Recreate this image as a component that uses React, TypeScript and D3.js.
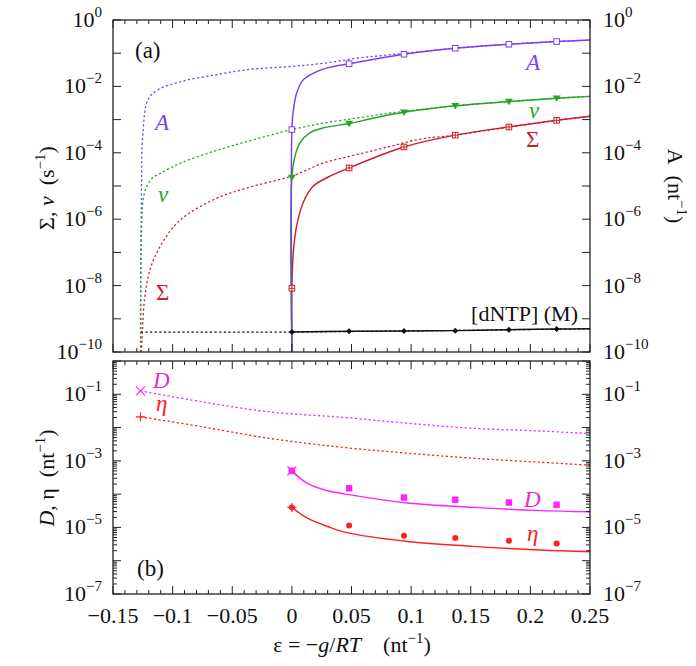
import React from 'react';
import * as d3 from 'd3';

type Pt = [number, number];

// ---- data (eps in nt^-1) ----
const EPS_MARK = [0, 0.048, 0.094, 0.137, 0.182, 0.222];
const EPS_MARK_B = [0.048, 0.094, 0.137, 0.182, 0.222];
const EPS_START = -0.127;

const A_MARK = [5.0e-4, 4.8e-2, 9.3e-2, 0.141, 0.186, 0.224];
const V_MARK = [1.8e-5, 7.6e-4, 1.66e-3, 2.6e-3, 3.5e-3, 4.4e-3];
const S_MARK = [8.3e-9, 3.5e-5, 1.5e-4, 3.4e-4, 6.0e-4, 9.5e-4];
const DNTP_MARK = [4.0e-10, 4.2e-10, 4.3e-10, 4.4e-10, 4.7e-10, 4.9e-10];

const A_SOLID: Pt[] = [
  [0, 1e-10], [0, 5.0e-4], [0.001, 1.6e-3], [0.004, 6.3e-3], [0.0097, 1.6e-2],
  [0.021, 2.8e-2], [0.032, 3.8e-2], [0.048, 4.8e-2], [0.069, 6.6e-2], [0.094, 9.3e-2],
  [0.137, 0.141], [0.182, 0.186], [0.222, 0.224], [0.25, 0.25],
];
const V_SOLID: Pt[] = [
  [0, 1e-10], [0, 1.8e-5], [0.0026, 7.9e-5], [0.0067, 2.0e-4], [0.015, 4.0e-4],
  [0.026, 5.6e-4], [0.048, 7.6e-4], [0.069, 1.12e-3], [0.094, 1.66e-3], [0.137, 2.6e-3],
  [0.182, 3.5e-3], [0.222, 4.4e-3], [0.25, 5.0e-3],
];
const S_SOLID: Pt[] = [
  [0, 1e-10], [0, 8.3e-9], [0.0012, 1.0e-7], [0.004, 6.3e-7], [0.0095, 3.2e-6],
  [0.018, 1.0e-5], [0.031, 1.9e-5], [0.048, 3.5e-5], [0.069, 7.1e-5], [0.094, 1.5e-4],
  [0.137, 3.4e-4], [0.182, 6.0e-4], [0.222, 9.5e-4], [0.25, 1.26e-3],
];
const DNTP_SOLID: Pt[] = [
  [0, 4.0e-10], [0.048, 4.2e-10], [0.094, 4.3e-10], [0.137, 4.4e-10],
  [0.182, 4.7e-10], [0.222, 4.9e-10], [0.25, 5.0e-10],
];

const A_DOT: Pt[] = [
  [-0.1268, 1e-10], [-0.1262, 4e-6], [-0.1249, 4e-4], [-0.1207, 4e-3], [-0.1123, 7.9e-3],
  [-0.0928, 1.4e-2], [-0.0649, 2.2e-2], [-0.037, 3.2e-2], [0, 4.0e-2], [0.027, 5.0e-2],
  [0.055, 7.1e-2], [0.083, 9.0e-2], [0.137, 0.141], [0.182, 0.186], [0.222, 0.224], [0.25, 0.25],
];
const V_DOT: Pt[] = [
  [-0.1268, 1e-10], [-0.1262, 4e-7], [-0.1235, 6.3e-6], [-0.1179, 1.6e-5], [-0.1095, 2.5e-5],
  [-0.0928, 5.0e-5], [-0.0649, 1.12e-4], [-0.037, 2.2e-4], [0, 5.0e-4], [0.027, 7.9e-4],
  [0.055, 1.12e-3], [0.083, 1.58e-3], [0.137, 2.6e-3], [0.182, 3.5e-3], [0.222, 4.4e-3], [0.25, 5.0e-3],
];
const S_DOT: Pt[] = [
  [-0.1268, 1e-10], [-0.1262, 1.26e-10], [-0.1235, 4.0e-9], [-0.1179, 4.0e-8], [-0.1068, 2.5e-7],
  [-0.0928, 1.0e-6], [-0.0649, 4.0e-6], [-0.037, 8.9e-6], [0, 2.0e-5], [0.027, 5.0e-5],
  [0.055, 8.9e-5], [0.083, 1.58e-4], [0.108, 2.6e-4], [0.137, 3.4e-4], [0.182, 6.0e-4],
  [0.222, 9.5e-4], [0.25, 1.26e-3],
];
const DNTP_DOT: Pt[] = [[-0.1265, 4.0e-10], [0, 4.0e-10], [0.25, 5.0e-10]];

const D_DOT: Pt[] = [
  [-0.127, 0.126], [-0.076, 6.0e-2], [-0.02, 3.0e-2], [0.045, 2.0e-2],
  [0.097, 1.35e-2], [0.152, 9.5e-3], [0.208, 7.9e-3], [0.25, 6.6e-3],
];
const ETA_DOT: Pt[] = [
  [-0.127, 2.1e-2], [-0.076, 1.07e-2], [-0.02, 4.8e-3], [0.045, 2.5e-3],
  [0.097, 1.7e-3], [0.152, 1.2e-3], [0.208, 9.1e-4], [0.25, 7.4e-4],
];
const D_SOLID: Pt[] = [
  [0, 5.0e-4], [0.013, 2.1e-4], [0.03, 1.26e-4], [0.045, 1.0e-4], [0.097, 5.4e-5],
  [0.152, 4.0e-5], [0.208, 3.2e-5], [0.25, 2.95e-5],
];
const ETA_SOLID: Pt[] = [
  [0, 4.0e-5], [0.013, 1.9e-5], [0.03, 1.07e-5], [0.045, 7.1e-6], [0.097, 3.8e-6],
  [0.152, 2.7e-6], [0.208, 2.1e-6], [0.25, 1.86e-6],
];
const D_MARK = [1.5e-4, 7.9e-5, 6.8e-5, 5.6e-5, 4.8e-5];
const ETA_MARK = [1.15e-5, 5.6e-6, 4.8e-6, 4.0e-6, 3.3e-6];
const D_START = 0.126;
const ETA_START = 2.1e-2;
const D_ZERO = 5.0e-4;
const ETA_ZERO = 4.0e-5;

const X_LABELS = ['\u22120.15', '\u22120.1', '\u22120.05', '0', '0.05', '0.1', '0.15', '0.2', '0.25'];
const X_LABEL_VALUES = [-0.15, -0.1, -0.05, 0, 0.05, 0.1, 0.15, 0.2, 0.25];
const TOP_EXP = [0, -2, -4, -6, -8, -10];
const BOT_EXP = [-1, -3, -5, -7];

// ---- colours ----
const C_A = '#7b3ff2';
const C_V = '#22a722';
const C_S = '#cc1f2e';
const C_D = '#ff22ff';
const C_DTXT = '#dd33cc';
const C_ETA = '#ff2020';
const FONT = '"Liberation Serif", "Times New Roman", serif';

const LEFT = 113, RIGHT = 590;
const x = d3.scaleLinear().domain([-0.15, 0.25]).range([LEFT, RIGHT]);
const yTop = d3.scaleLog().domain([1e-10, 1]).range([352, 20]);
const yBot = d3.scaleLog().domain([1e-7, 1]).range([594, 361]);

const mkLine = (y: d3.ScaleLogarithmic<number, number>) =>
  d3.line<Pt>().x(d => x(d[0])).y(d => y(d[1])).curve(d3.curveCatmullRom.alpha(0.5));

const lineTop = mkLine(yTop);
const lineBot = mkLine(yBot);

const DOT = '2.2,2.4';
const SOLID_W = 1.45;

const Pow: React.FC<{ px: number; py: number; exp: number; anchor: 'start' | 'end' }> = ({ px, py, exp, anchor }) => (
  <text x={px} y={py + 7} textAnchor={anchor} fontSize={22} fontFamily={FONT} fill="#111">
    10<tspan dy={-10} fontSize={15}>{exp < 0 ? '\u2212' + Math.abs(exp) : exp}</tspan>
  </text>
);

function Frame({ y, top, bottom, showX }: { y: d3.ScaleLogarithmic<number, number>; top: number; bottom: number; showX: boolean }) {
  const yt = y.ticks();
  const xt = d3.range(-15, 26).map(i => i / 100);
  return (
    <g>
      {yt.map((t, i) => {
        const major = Math.abs(Math.log10(t) - Math.round(Math.log10(t))) < 1e-6;
        const L = major ? 8 : 4;
        const py = y(t);
        return (
          <g key={'y' + i} stroke="#222" strokeWidth={1}>
            <line x1={LEFT} x2={LEFT + L} y1={py} y2={py} />
            <line x1={RIGHT} x2={RIGHT - L} y1={py} y2={py} />
          </g>
        );
      })}
      {xt.map((t, i) => {
        const major = Math.round(t * 100) % 5 === 0;
        const L = major ? 8 : 4;
        const px = x(t);
        return (
          <g key={'x' + i} stroke="#222" strokeWidth={1}>
            <line x1={px} x2={px} y1={bottom} y2={bottom - L} />
            <line x1={px} x2={px} y1={top} y2={top + L} />
          </g>
        );
      })}
      <rect x={LEFT} y={top} width={RIGHT - LEFT} height={bottom - top} fill="none" stroke="#222" strokeWidth={1.3} />
      {showX && X_LABEL_VALUES.map((v, i) => (
        <text key={'xl' + i} x={x(v)} y={bottom + 29} textAnchor="middle" fontSize={22} fontFamily={FONT} fill="#111">
          {X_LABELS[i]}
        </text>
      ))}
    </g>
  );
}

function OpenSquare({ cx, cy, color, plus }: { cx: number; cy: number; color: string; plus?: boolean }) {
  const s = 2.8;
  return (
    <g stroke={color} strokeWidth={1} fill="#fff">
      <rect x={cx - s} y={cy - s} width={2 * s} height={2 * s} />
      {plus && <path d={`M${cx - s},${cy}H${cx + s}M${cx},${cy - s}V${cy + s}`} fill="none" />}
    </g>
  );
}

function TriDown({ cx, cy, color }: { cx: number; cy: number; color: string }) {
  const s = 4;
  return <path d={`M${cx - s},${cy - s * 0.7}L${cx + s},${cy - s * 0.7}L${cx},${cy + s * 0.9}Z`} fill={color} />;
}

function Diamond({ cx, cy }: { cx: number; cy: number }) {
  const s = 3;
  return <path d={`M${cx},${cy - s}L${cx + s},${cy}L${cx},${cy + s}L${cx - s},${cy}Z`} fill="#111" />;
}

function Cross({ cx, cy, color, rot }: { cx: number; cy: number; color: string; rot?: boolean }) {
  const s = 4.5;
  const d = rot
    ? `M${cx - s},${cy - s}L${cx + s},${cy + s}M${cx - s},${cy + s}L${cx + s},${cy - s}`
    : `M${cx - s},${cy}H${cx + s}M${cx},${cy - s}V${cy + s}`;
  return <path d={d} stroke={color} strokeWidth={1.1} fill="none" />;
}

const it = { fontStyle: 'italic' as const };

export default function App() {
  return (
    <svg width={696} height={666} viewBox="0 0 696 666" style={{ position: 'absolute', left: 0, top: 0, background: '#fff' }}>
      <defs>
        <clipPath id="clipTop"><rect x={LEFT} y={20} width={RIGHT - LEFT} height={332} /></clipPath>
        <clipPath id="clipBot"><rect x={LEFT} y={361} width={RIGHT - LEFT} height={233} /></clipPath>
      </defs>
      <rect x={0} y={0} width={696} height={666} fill="#fff" />

      {/* ---- panel (a) ---- */}
      <g clipPath="url(#clipTop)" fill="none">
        <path d={lineTop(A_DOT) ?? ''} stroke={C_A} strokeWidth={1.3} strokeDasharray={DOT} />
        <path d={lineTop(V_DOT) ?? ''} stroke={C_V} strokeWidth={1.3} strokeDasharray={DOT} />
        <path d={lineTop(S_DOT) ?? ''} stroke={C_S} strokeWidth={1.3} strokeDasharray={DOT} />
        <path d={lineTop(DNTP_DOT) ?? ''} stroke="#111" strokeWidth={1.2} strokeDasharray={DOT} />
        <path d={lineTop(S_SOLID) ?? ''} stroke={C_S} strokeWidth={SOLID_W} />
        <path d={lineTop(V_SOLID) ?? ''} stroke={C_V} strokeWidth={SOLID_W} />
        <path d={lineTop(A_SOLID) ?? ''} stroke={C_A} strokeWidth={SOLID_W} />
        <path d={lineTop(DNTP_SOLID) ?? ''} stroke="#111" strokeWidth={SOLID_W} />
      </g>
      {EPS_MARK.map((e, i) => (
        <g key={'mt' + i}>
          <OpenSquare cx={x(e)} cy={yTop(A_MARK[i])} color={C_A} />
          <TriDown cx={x(e)} cy={yTop(V_MARK[i])} color={C_V} />
          <OpenSquare cx={x(e)} cy={yTop(S_MARK[i])} color={C_S} plus />
          <Diamond cx={x(e)} cy={yTop(DNTP_MARK[i])} />
        </g>
      ))}
      <Frame y={yTop} top={20} bottom={352} showX={false} />
      {TOP_EXP.map(e => (
        <g key={'te' + e}>
          <Pow px={102} py={yTop(10 ** e)} exp={e} anchor="end" />
          <Pow px={603} py={yTop(10 ** e)} exp={e} anchor="start" />
        </g>
      ))}

      <g fontFamily={FONT} fontSize={23}>
        <text x={135} y={58} fill="#111">(a)</text>
        <text x={155} y={130} fill={C_A} style={it}>A</text>
        <text x={158} y={202} fill={C_V} style={it}>ν</text>
        <text x={156} y={300} fill={C_S}>Σ</text>
        <text x={526} y={70} fill={C_A} style={it}>A</text>
        <text x={529} y={118} fill={C_V} style={it}>ν</text>
        <text x={526} y={147} fill={C_S}>Σ</text>
        <text x={578} y={321} fill="#111" textAnchor="end" fontSize={22}>[dNTP]  (M)</text>
      </g>

      {/* ---- panel (b) ---- */}
      <g clipPath="url(#clipBot)" fill="none">
        <path d={lineBot(D_DOT) ?? ''} stroke={C_D} strokeWidth={1.3} strokeDasharray={DOT} />
        <path d={lineBot(ETA_DOT) ?? ''} stroke={C_ETA} strokeWidth={1.3} strokeDasharray={DOT} />
        <path d={lineBot(D_SOLID) ?? ''} stroke={C_D} strokeWidth={SOLID_W} />
        <path d={lineBot(ETA_SOLID) ?? ''} stroke={C_ETA} strokeWidth={SOLID_W} />
      </g>
      <Cross cx={x(EPS_START)} cy={yBot(D_START)} color={C_D} rot />
      <Cross cx={x(EPS_START)} cy={yBot(ETA_START)} color={C_ETA} />
      <rect x={x(0) - 3.3} y={yBot(D_ZERO) - 3.3} width={6.6} height={6.6} fill={C_D} />
      <Cross cx={x(0)} cy={yBot(D_ZERO)} color={C_D} rot />
      <circle cx={x(0)} cy={yBot(ETA_ZERO)} r={3} fill={C_ETA} />
      <Cross cx={x(0)} cy={yBot(ETA_ZERO)} color={C_ETA} />
      {EPS_MARK_B.map((e, i) => (
        <g key={'mb' + i}>
          <rect x={x(e) - 3.2} y={yBot(D_MARK[i]) - 3.2} width={6.4} height={6.4} fill={C_D} />
          <circle cx={x(e)} cy={yBot(ETA_MARK[i])} r={3} fill={C_ETA} />
        </g>
      ))}
      <Frame y={yBot} top={361} bottom={594} showX />
      {BOT_EXP.map(e => (
        <g key={'be' + e}>
          <Pow px={102} py={yBot(10 ** e)} exp={e} anchor="end" />
          <Pow px={603} py={yBot(10 ** e)} exp={e} anchor="start" />
        </g>
      ))}
      <g fontFamily={FONT} fontSize={23}>
        <text x={137} y={576} fill="#111">(b)</text>
        <text x={153} y={388} fill={C_DTXT} style={it}>D</text>
        <text x={156} y={411} fill={C_ETA} style={it}>η</text>
        <text x={524} y={507} fill={C_DTXT} style={it}>D</text>
        <text x={527} y={541} fill={C_ETA} style={it}>η</text>
      </g>

      {/* ---- axis titles ---- */}
      <g fontFamily={FONT} fontSize={22} fill="#111">
        <text transform="translate(54,188) rotate(-90)" textAnchor="middle">
          Σ, <tspan style={it}>ν</tspan>{'\u00a0\u00a0'}(s<tspan dy={-9} fontSize={15}>−1</tspan><tspan dy={9}>)</tspan>
        </text>
        <text transform="translate(54,478) rotate(-90)" textAnchor="middle">
          <tspan style={it}>D</tspan>, η{'\u00a0\u00a0'}(nt<tspan dy={-9} fontSize={15}>−1</tspan><tspan dy={9}>)</tspan>
        </text>
        <text transform="translate(668,186) rotate(90)" textAnchor="middle">
          A{'\u00a0\u00a0'}(nt<tspan dy={-9} fontSize={15}>−1</tspan><tspan dy={9}>)</tspan>
        </text>
        <text x={352} y={652} textAnchor="middle">
          ε = −<tspan style={it}>g</tspan>/<tspan style={it}>RT</tspan>{'\u00a0\u00a0\u00a0\u00a0'}(nt<tspan dy={-9} fontSize={15}>−1</tspan><tspan dy={9}>)</tspan>
        </text>
      </g>
    </svg>
  );
}
